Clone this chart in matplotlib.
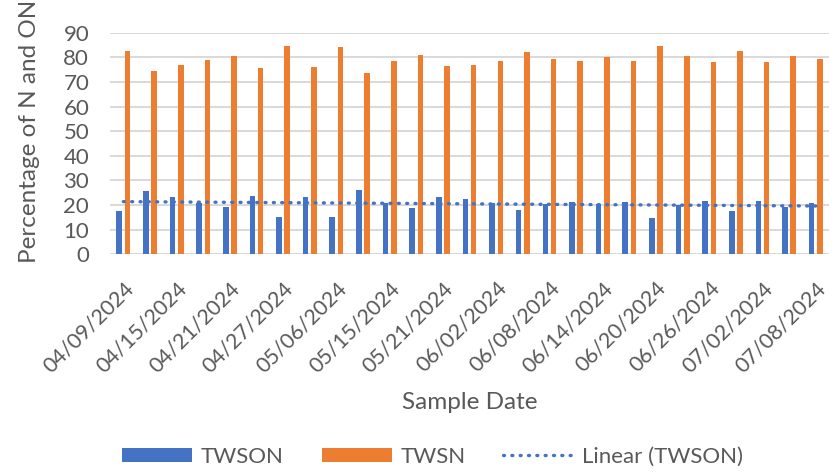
import numpy as np
import matplotlib
matplotlib.use("Agg")
import matplotlib.pyplot as plt

plt.rcParams["font.family"] = ["Lato", "DejaVu Sans"]

# 採樣日期與兩組比例 (%)
dates = ['04/09/2024', '04/12/2024', '04/15/2024', '04/18/2024', '04/21/2024',
         '04/24/2024', '04/27/2024', '05/01/2024', '05/06/2024', '05/09/2024',
         '05/15/2024', '05/18/2024', '05/21/2024', '05/27/2024', '06/02/2024',
         '06/05/2024', '06/08/2024', '06/11/2024', '06/14/2024', '06/17/2024',
         '06/20/2024', '06/23/2024', '06/26/2024', '06/29/2024', '07/02/2024',
         '07/05/2024', '07/08/2024']
twson = [17.5, 25.8, 23.1, 21.0, 19.1, 23.7, 15.3, 23.1, 15.3, 26.3,
         21.0, 18.9, 23.1, 22.6, 21.0, 18.0, 20.6, 21.1, 20.3, 21.1,
         14.9, 19.9, 21.7, 17.5, 21.7, 19.1, 20.7]
twsn = [82.6, 74.3, 76.9, 78.9, 80.5, 75.8, 84.7, 76.2, 84.0, 73.8,
        78.4, 81.1, 76.3, 76.9, 78.4, 82.0, 79.4, 78.4, 80.0, 78.4,
        84.7, 80.5, 78.0, 82.6, 78.0, 80.5, 79.4]

blue = '#4472C4'
orange = '#ED7D31'
txt = '#595959'

x = np.arange(len(dates))
fig = plt.figure(figsize=(8.4, 4.73), dpi=100)
ax = fig.add_axes([0.131, 0.4624, 0.856, 0.4685])

w = 0.21
b1 = ax.bar(x - 0.155, twson, w, color=blue, label='TWSON', zorder=3)
b2 = ax.bar(x + 0.155, twsn, w, color=orange, label='TWSN', zorder=3)

# 線性趨勢線
k, b = np.polyfit(x, twson, 1)
ln, = ax.plot(x, k * x + b, color=blue, linewidth=2.4, linestyle=(0, (0.3, 2.2)),
              dash_capstyle='round', label='Linear (TWSON)', zorder=4)

ax.set_xlim(-0.5, len(dates) - 0.5)
ax.set_ylim(0, 90)
ax.set_yticks(range(0, 91, 10))
ax.set_xticks(x[::2])
ax.set_xticklabels(dates[::2], rotation=45, ha='right', rotation_mode='anchor')
ax.tick_params(axis='both', length=0, colors=txt)
ax.tick_params(axis='x', labelsize=15.5, pad=17)
ax.tick_params(axis='y', labelsize=16, pad=15)
ax.grid(axis='y', color='#D9D9D9', linewidth=1.4, zorder=0)
for s in ax.spines.values():
    s.set_visible(False)

ax.set_ylabel('Percentage of N and ON', fontsize=17.5, color=txt)
ax.yaxis.set_label_coords(-0.097, 0.556)
ax.set_xlabel('Sample Date', fontsize=17.5, color=txt)
ax.xaxis.set_label_coords(0.50, -0.62)

fig.legend(handles=[b1, b2, ln], loc='center', bbox_to_anchor=(0.515, 0.034),
           ncol=3, frameon=False, fontsize=16, labelcolor=txt,
           handlelength=3.15, handleheight=0.63, handletextpad=0.4,
           columnspacing=1.7)

fig.savefig('out.png', dpi=100)
